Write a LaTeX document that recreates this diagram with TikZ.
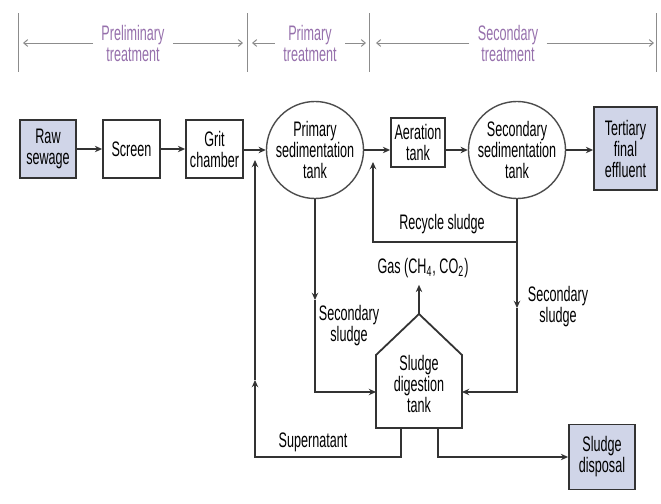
\documentclass[tikz,border=0pt]{standalone}
\usepackage{fontspec}
\setmainfont{Liberation Sans}[FakeStretch=0.6]
\usetikzlibrary{arrows.meta}
\definecolor{boxfill}{RGB}{208,213,232}
\definecolor{hdrtext}{RGB}{150,112,172}
\definecolor{hdrline}{RGB}{140,140,140}
\tikzset{
  box/.style={draw=black!80, line width=0.9pt, align=center, inner sep=0pt},
  shadedbox/.style={box, fill=boxfill},
  tankcircle/.style={circle, draw=black!70, line width=0.7pt, align=center, inner sep=0pt},
  flow/.style={line width=0.7pt, draw=black!80, -{Stealth[length=3.6pt,width=3.2pt]}},
  pipe/.style={line width=0.7pt, draw=black!80},
  hdrarrow/.style={line width=0.5pt, draw=hdrline, -{Straight Barb[length=2pt,width=3.4pt]}},
  hdrlabel/.style={text=hdrtext, align=center, inner sep=4pt}
}
\begin{document}
\begin{tikzpicture}[x=0.5pt,y=-0.5pt, font=\fontsize{10.5}{10.5}\selectfont]
\useasboundingbox (0,0) rectangle (661,504);

% stages along the top
\foreach \xdiv in {19,248,370,657}
  \draw[hdrline, line width=0.5pt] (\xdiv,13) -- (\xdiv,72);
\node[hdrlabel] (prelim) at (133,43) {Preliminary\\treatment};
\node[hdrlabel] (primt) at (310,43) {Primary\\treatment};
\node[hdrlabel] (sect) at (508,43) {Secondary\\treatment};
\coordinate (h1) at (23,43);  \coordinate (h2) at (243,43);
\coordinate (h3) at (252,43); \coordinate (h4) at (366,43);
\coordinate (h5) at (376,43); \coordinate (h6) at (654,43);
\draw[hdrarrow] (prelim) -- (h1);
\draw[hdrarrow] (prelim) -- (h2);
\draw[hdrarrow] (primt) -- (h3);
\draw[hdrarrow] (primt) -- (h4);
\draw[hdrarrow] (sect) -- (h5);
\draw[hdrarrow] (sect) -- (h6);

% main line
\node[shadedbox, minimum width=28pt, minimum height=29pt] (raw) at (48,149) {Raw\\sewage};
\node[box, minimum width=28.5pt, minimum height=29pt] (screen) at (131.5,149) {Screen};
\node[box, minimum width=28.5pt, minimum height=29pt] (grit) at (214.5,149) {Grit\\chamber};
\node[tankcircle, minimum size=47pt] (prim) at (315,150) {Primary\\sedimentation\\tank};
\node[box, minimum width=27pt, minimum height=24.5pt] (aer) at (418,142.5) {Aeration\\tank};
\node[tankcircle, minimum size=45pt] (sec) at (517,150) {Secondary\\sedimentation\\tank};
\node[shadedbox, minimum width=31.5pt, minimum height=41.5pt] (tert) at (625.5,148.5) {Tertiary\\final\\effluent};

\draw[flow] (raw) -- (screen);
\draw[flow] (screen) -- (grit);
\draw[flow] (grit.east |- prim.west) -- (prim.west);
\draw[flow] (prim.east) -- (prim.east -| aer.west);
\draw[flow] (aer.east |- sec.west) -- (sec.west);
\draw[flow] (sec.east) -- (sec.east -| tert.west);

% recycle
\coordinate (recycle) at (373,242);
\coordinate (recend) at (373,162);
\draw[flow] (sec.south) |- (recycle) -- (recend);
\node (reclabel) at (442,224) {Recycle sludge};

% digester
\coordinate (tkA) at (419,314);
\coordinate (tkNE) at (462,355); \coordinate (tkSE) at (462,428);
\coordinate (tkSW) at (376,428); \coordinate (tkNW) at (376,355);
\draw[box] (tkA) -- (tkNE) -- (tkSE) -- (tkSW) -- (tkNW) -- cycle;
\node[align=center] (tank) at (419,384) {Sludge\\digestion\\tank};
\node (gas) at (423,268) {Gas (CH\textsubscript{4}, CO\textsubscript{2})};
\draw[flow] (tkA) -- (tkA |- gas.south);

% sludge to the digester
\coordinate (lsl) at (315,300);
\coordinate (rsl) at (517,308);
\coordinate (tkL) at (376,392);
\coordinate (tkR) at (462,392);
\draw[flow] (prim.south) -- (lsl);
\draw[flow] (lsl) |- (tkL);
\draw[flow] (sec.south) -- (rsl);
\draw[flow] (rsl) |- (tkR);
\node[align=center] (lsllabel) at (349,326) {Secondary\\sludge};
\node[align=center] (rsllabel) at (558,307) {Secondary\\sludge};

% supernatant and disposal
\coordinate (supout) at (401,428);
\coordinate (supmid) at (255,380);
\coordinate (supend) at (255,160);
\draw[flow] (supout) |- (255,457) -- (supmid);
\draw[flow] (supmid) -- (supend);
\node (suplabel) at (313,442) {Supernatant};
\node[shadedbox, minimum width=33pt, minimum height=32.5pt] (disp) at (602,457) {Sludge\\disposal};
\coordinate (dispout) at (438,428);
\draw[flow] (dispout) |- (disp.west);
\end{tikzpicture}
\end{document}
